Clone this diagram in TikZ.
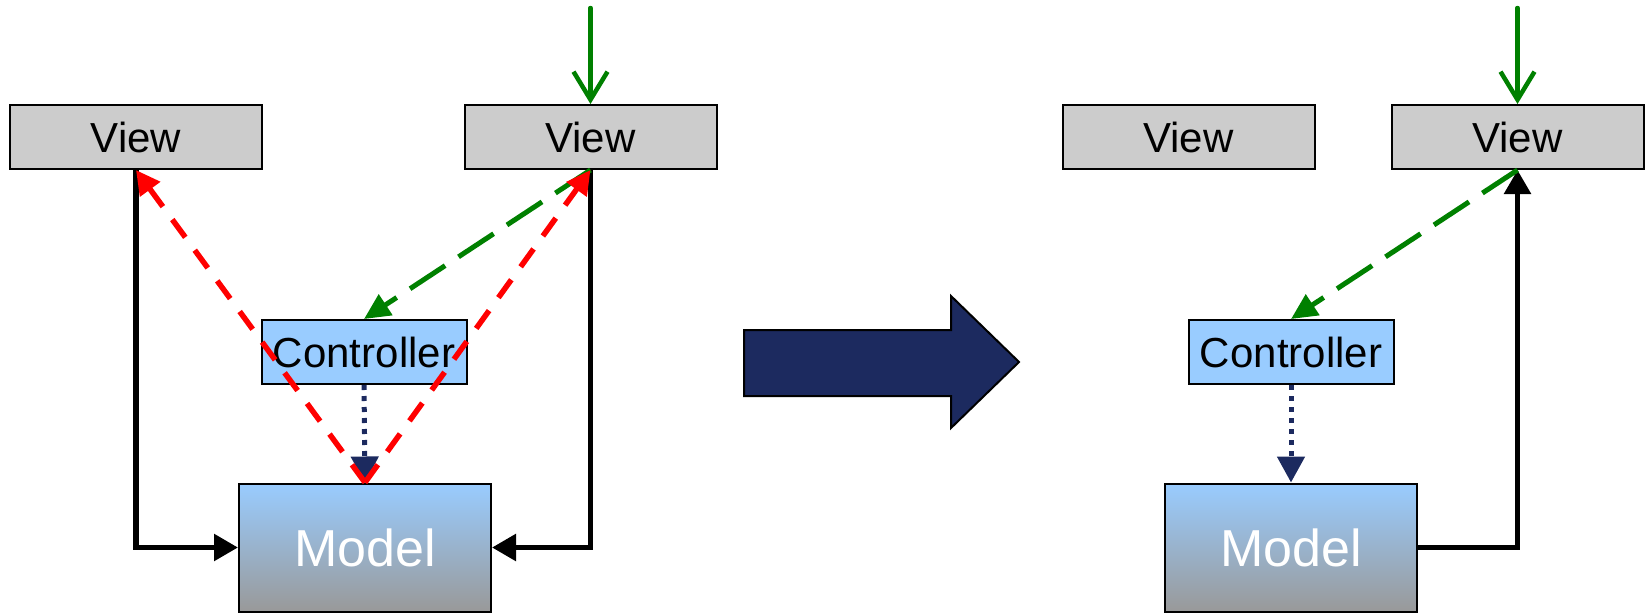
\documentclass[tikz,border=0pt]{standalone}
\usepackage{fontspec}
\setmainfont{Liberation Sans}
\usetikzlibrary{arrows.meta}
\definecolor{viewgray}{HTML}{CCCCCC}
\definecolor{ctrlblue}{HTML}{99CCFF}
\definecolor{midblue}{HTML}{99BDE6}
\definecolor{modelgray}{HTML}{999999}
\definecolor{navy}{HTML}{1C2A5F}
\definecolor{leafgreen}{HTML}{008000}

\begin{document}
\begin{tikzpicture}[x=1pt,y=-1pt,box/.style={draw=black,line width=2pt,inner sep=0pt,font=\fontsize{42}{48}\selectfont},view/.style={box,fill=viewgray,minimum width=252pt,minimum height=64pt},ctrl/.style={box,fill=ctrlblue,minimum width=205pt,minimum height=64pt},model/.style={box,top color=ctrlblue,middle color=midblue,bottom color=modelgray,minimum width=252pt,minimum height=128pt,text=white,font=\fontsize{52}{60}\selectfont},link/.style={-{Triangle[length=24pt,width=26pt]},line width=5.5pt},input/.style={-{Straight Barb[length=28pt,width=34pt]},draw=leafgreen,line width=4.5pt,line cap=round},event/.style={-{Triangle[length=26pt,width=24pt]},draw=leafgreen,line width=5pt,dash pattern=on 42pt off 16pt},notify/.style={-{Triangle[length=24pt,width=24pt]},draw=red,line width=5.5pt,dash pattern=on 22pt off 16pt},update/.style={-{Triangle[length=26pt,width=27pt]},draw=navy,line width=5pt,dash pattern=on 5pt off 6pt}]
\useasboundingbox (0,0) rectangle (1646,613);
\node[view] (viewA) at (136,137) {View};
\node[view] (viewB) at (590.5,137) {View};
\node[ctrl] (ctrlA) at (364,352) {Controller};
\node[model] (modelA) at (365,547.5) {Model};
\node[view] (viewC) at (1188.5,137) {View};
\node[view] (viewD) at (1517.5,137) {View};
\node[ctrl] (ctrlB) at (1291,352) {Controller};
\node[model] (modelB) at (1291,547.5) {Model};
\coordinate (inA) at (590.5,8);
\coordinate (inB) at (1517.5,8);
% before
\draw[link] (viewA.south) |- (modelA.west);
\draw[link] (viewB.south) |- (modelA.east);
\draw[update] (ctrlA.south) -- (modelA.north);
\draw[input] (inA) -- (viewB.north);
\draw[event] (viewB.south) -- (ctrlA.north);
\draw[notify] (modelA.north) -- (viewA.south);
\draw[notify] (modelA.north) -- (viewB.south);
% after
\draw[fill=navy,line width=2pt] (744,330) -- (951,330) -- (951,296) -- (1019,362) -- (951,428) -- (951,396) -- (744,396) -- cycle;
\draw[link] (modelB.east) -| (viewD.south);
\draw[update] (ctrlB.south) -- (modelB.north);
\draw[input] (inB) -- (viewD.north);
\draw[event] (viewD.south) -- (ctrlB.north);
\end{tikzpicture}
\end{document}
